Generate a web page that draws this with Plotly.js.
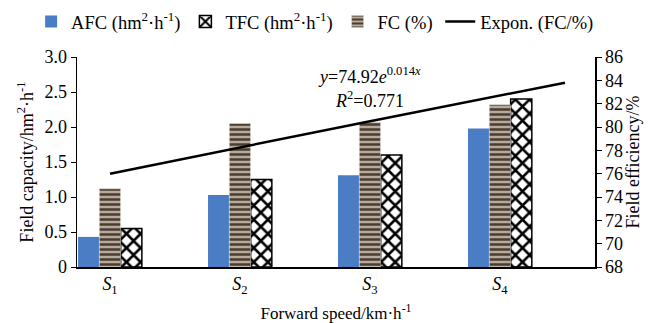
<!DOCTYPE html>
<html><head><meta charset="utf-8">
<script src="https://cdn.plot.ly/plotly-3.0.1.min.js"></script>
<style>html,body{margin:0;padding:0;background:#fff}#c{width:662px;height:323px}</style>
</head><body><div id="c"></div>
<script>
const categories = [1, 2, 3, 4];
const tickLabels = ['<i>S</i><sub>1</sub>', '<i>S</i><sub>2</sub>', '<i>S</i><sub>3</sub>', '<i>S</i><sub>4</sub>'];
const leftTicks = [0, 0.5, 1, 1.5, 2, 2.5, 3];
const leftTickText = ['0', '0.5', '1.0', '1.5', '2.0', '2.5', '3.0'];
const afc = [0.43, 1.03, 1.31, 1.98];      // hm2/h, left axis
const tfc = [0.55, 1.25, 1.60, 2.40];      // hm2/h, left axis
const fc = [74.7, 80.3, 80.4, 81.9];       // %, right axis
const fcBase = 68;                         // right axis floor
const trendX = [1, 3, 4.5];
const trendY = [76.0, 80.5, 83.8];         // read from trendline

const F = '"Liberation Serif", "Times New Roman", serif';
const W = 0.163;
const traces = [
  {type:'bar', name:'AFC (hm<sup>2</sup>·h<sup>-1</sup>)', x:categories, y:afc, width:W, offset:-0.246,
   marker:{color:'#4a7dc4', line:{width:0}}, yaxis:'y', legend:'legend'},
  {type:'bar', name:'TFC (hm<sup>2</sup>·h<sup>-1</sup>)', x:categories, y:tfc, width:W, offset:0.082,
   marker:{color:'#ffffff', line:{color:'#000', width:1.5}, pattern:{shape:'x', fgcolor:'#000', bgcolor:'#fff', size:10, solidity:0.45}}, yaxis:'y', legend:'legend'},
  {type:'bar', name:'FC (%)', x:categories, y:fc.map(v=>v-fcBase), base:fc.map(()=>fcBase), width:W, offset:-0.082,
   marker:{color:'#8f8170', line:{color:'#e0dcd6', width:0.5}, pattern:{shape:'-', fgcolor:'#4a3c2e', bgcolor:'#b5aa9b', size:5, solidity:0.5}}, yaxis:'y2', legend:'legend'},
  {type:'scatter', mode:'lines', name:'Expon. (FC/%)', x:trendX, y:trendY, line:{color:'#000', width:2.5}, yaxis:'y2', legend:'legend2'}
];

const legFont = {family:F, size:18.5};
const layout = {
  width:662, height:323, paper_bgcolor:'#fff', plot_bgcolor:'#fff',
  margin:{l:77, r:67, t:57, b:56},
  font:{family:F, size:16, color:'#000'},
  barmode:'overlay', showlegend:true,
  legend:{orientation:'h', xref:'container', yref:'container', x:0.047, y:0.932, xanchor:'left', yanchor:'middle', font:legFont, traceorder:'normal'},
  legend2:{orientation:'h', xref:'container', yref:'container', x:0.665, y:0.932, xanchor:'left', yanchor:'middle', font:legFont},
  xaxis:{range:[0.746, 4.731], tickvals:categories, ticktext:tickLabels, showline:true, linecolor:'#000', linewidth:1.5,
         ticks:'', showgrid:false, zeroline:false, tickfont:{family:F, size:18},
         title:{text:'Forward speed/km·h<sup>-1</sup>', font:{family:F, size:17}, standoff:12}},
  yaxis:{range:[0, 3.0], tickvals:leftTicks, ticktext:leftTickText, showline:true, linecolor:'#000', linewidth:1.5, ticks:'outside', ticklen:5, tickcolor:'#000',
         showgrid:false, zeroline:false, tickfont:{family:F, size:18},
         title:{text:'Field capacity/hm<sup>2</sup>·h<sup>-1</sup>', font:{family:F, size:18}, standoff:6}},
  yaxis2:{overlaying:'y', side:'right', range:[68, 86], dtick:2, showline:true, linecolor:'#000', linewidth:1.5, ticks:'outside', ticklen:5, tickcolor:'#000',
         showgrid:false, zeroline:false, tickfont:{family:F, size:18},
         title:{text:'Field efficiency/%', font:{family:F, size:18}, standoff:2}},
  annotations:[
    {xref:'x', yref:'y2', x:3.0, y:84.45, text:'<i>y</i>=74.92<i>e</i><sup>0.014<i>x</i></sup>', showarrow:false, font:{family:F, size:18}},
    {xref:'x', yref:'y2', x:3.0, y:82.4, text:'<i>R</i><sup>2</sup>=0.771', showarrow:false, font:{family:F, size:18}}
  ]
};
Plotly.newPlot('c', traces, layout, {displayModeBar:false, staticPlot:true});
</script></body></html>
